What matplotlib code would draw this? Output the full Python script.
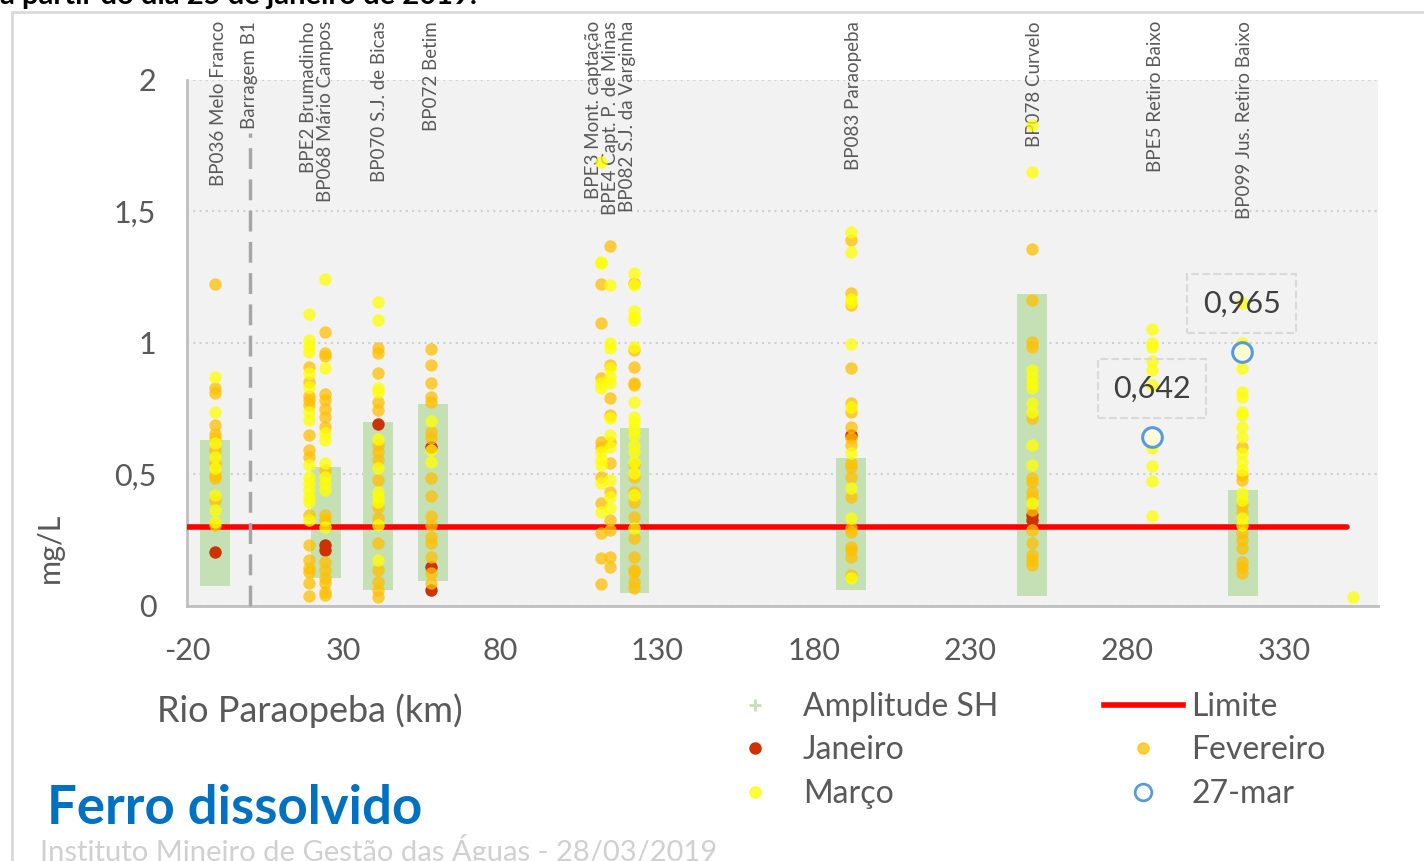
import numpy as np
import matplotlib.pyplot as plt
from matplotlib.lines import Line2D
from matplotlib.ticker import FuncFormatter
import matplotlib.transforms as mtransforms

plt.rcParams['font.family'] = ['Lato', 'DejaVu Sans']
plt.rcParams['axes.unicode_minus'] = False

# estações (km ao longo do rio)
km = [-11, 19, 24, 41, 58, 112, 115, 122.5, 192, 249.5, 288, 316.5, 352]

janeiro = [
    [0.205], [], [0.232, 0.213], [0.692], [0.605, 0.148, 0.061],
    [], [], [], [0.65], [0.346, 0.327], [], [], [],
]
fevereiro = [
    [1.224, 0.83, 0.81, 0.69, 0.655, 0.64, 0.593, 0.544, 0.498, 0.487, 0.403, 0.308],
    [0.91, 0.852, 0.80, 0.783, 0.764, 0.65, 0.593, 0.567, 0.346, 0.232, 0.175, 0.144, 0.13, 0.087, 0.038],
    [1.04, 0.962, 0.95, 0.806, 0.783, 0.749, 0.719, 0.681, 0.517, 0.346, 0.327, 0.167, 0.137, 0.106, 0.087, 0.053, 0.042],
    [0.981, 0.962, 0.886, 0.776, 0.745, 0.612, 0.586, 0.555, 0.479, 0.376, 0.335, 0.24, 0.137, 0.091, 0.061, 0.034],
    [0.977, 0.916, 0.848, 0.795, 0.776, 0.662, 0.639, 0.487, 0.418, 0.342, 0.308, 0.262, 0.24, 0.186, 0.125, 0.087],
    [1.224, 1.076, 0.867, 0.624, 0.605, 0.49, 0.392, 0.278, 0.182, 0.084],
    [1.369, 0.916, 0.791, 0.726, 0.624, 0.544, 0.433, 0.327, 0.289, 0.186, 0.148],
    [1.228, 0.973, 0.909, 0.848, 0.84, 0.536, 0.49, 0.433, 0.395, 0.338, 0.259, 0.186, 0.137, 0.129, 0.091, 0.068],
    [1.392, 1.19, 1.144, 0.905, 0.772, 0.738, 0.681, 0.639, 0.612, 0.544, 0.529, 0.49, 0.414, 0.297, 0.281, 0.224, 0.213, 0.186, 0.118],
    [1.357, 1.163, 1.004, 0.985, 0.715, 0.487, 0.471, 0.433, 0.414, 0.365, 0.289, 0.24, 0.194, 0.175, 0.156],
    [],
    [0.605, 0.498, 0.479, 0.384, 0.357, 0.278, 0.251, 0.221, 0.167, 0.148, 0.125],
    [],
]
marco = [
    [0.872, 0.738, 0.62, 0.567, 0.525, 0.422, 0.365, 0.32],
    [1.11, 1.01, 0.99, 0.966, 0.885, 0.833, 0.738, 0.707, 0.536, 0.49, 0.468, 0.441, 0.414, 0.395, 0.327],
    [1.243, 0.905, 0.658, 0.631, 0.544, 0.49, 0.468, 0.441, 0.30],
    [1.156, 1.087, 0.829, 0.814, 0.635, 0.525, 0.433, 0.414, 0.395, 0.308, 0.175],
    [0.703, 0.593, 0.548],
    [1.688, 1.308, 1.304, 0.848, 0.829, 0.586, 0.555, 0.536, 0.468, 0.357],
    [1.22, 1.0, 0.981, 0.905, 0.871, 0.848, 0.715, 0.65, 0.605, 0.479, 0.414, 0.373],
    [1.266, 1.22, 1.122, 1.099, 1.087, 0.985, 0.776, 0.719, 0.70, 0.673, 0.65, 0.612, 0.586, 0.548, 0.506, 0.422, 0.297],
    [1.422, 1.346, 1.167, 1.156, 0.996, 0.757, 0.582, 0.449, 0.335, 0.106],
    [1.829, 1.65, 0.897, 0.871, 0.848, 0.829, 0.772, 0.738, 0.612, 0.536, 0.392],
    [1.053, 1.0, 0.985, 0.932, 0.897, 0.84, 0.642, 0.60, 0.532, 0.475, 0.342],
    [1.152, 1.0, 0.965, 0.905, 0.814, 0.795, 0.738, 0.726, 0.681, 0.643, 0.582, 0.548, 0.517, 0.43, 0.403, 0.335, 0.308],
    [0.034],
]

# amplitude da série histórica
amp_km = [-11, 24.3, 41, 58.4, 122.8, 191.8, 249.7, 316.9]
amp_min = [0.076, 0.106, 0.061, 0.095, 0.049, 0.061, 0.038, 0.038]
amp_max = [0.63, 0.527, 0.70, 0.768, 0.677, 0.563, 1.186, 0.441]

# 27 de março
mar27_km = [288, 316.5]
mar27_val = [0.642, 0.965]

limite_km = [-20, 350]
limite_val = [0.3, 0.3]

rotulos_km = [-10, 0, 21.5, 41.5, 58, 115, 192.5, 250.5, 289, 317.5]
rotulos = ['BP036 Melo Franco', 'Barragem B1', 'BPE2 Brumadinho\nBP068 Mário Campos',
           'BP070 S.J. de Bicas', 'BP072 Betim',
           'BPE3 Mont. captação\nBPE4 Capt. P. de Minas\nBP082 S.J. da Varginha',
           'BP083 Paraopeba', 'BP078 Curvelo', 'BPE5 Retiro Baixo', 'BP099 Jus. Retiro Baixo']


def achatar(listas):
    xs, ys = [], []
    for x, vals in zip(km, listas):
        xs += [x] * len(vals)
        ys += vals
    return xs, ys


fig = plt.figure(figsize=(14.24, 8.61), dpi=100)
ax = fig.add_axes([0.1313, 0.2962, 0.8364, 0.6109])
ax.set_facecolor('#f2f2f2')

cinza = '#595959'

# borda externa do gráfico
fig.add_artist(plt.Rectangle((12 / 1424, -0.1), 1.2, 1.086, transform=fig.transFigure,
                             fill=False, edgecolor='#d9d9d9', linewidth=2))

ax.bar(amp_km, np.array(amp_max) - np.array(amp_min), bottom=amp_min, width=9.5,
       color='#c5e0b4', zorder=2)
ax.plot(limite_km, limite_val, color='#ff0000', linewidth=4, solid_capstyle='round', zorder=3)

x, y = achatar(janeiro)
ax.scatter(x, y, s=80, color='#cc3300', linewidths=0, zorder=4)
x, y = achatar(fevereiro)
ax.scatter(x, y, s=80, color='#ffc000', alpha=0.75, linewidths=0, zorder=5)
x, y = achatar(marco)
ax.scatter(x, y, s=80, color='#ffff00', alpha=0.75, linewidths=0, zorder=6)
ax.scatter(mar27_km, mar27_val, s=200, facecolor=(1, 1, 1, 0.75), edgecolor='#5b9bd5',
           linewidths=2.2, zorder=7)

for xv, v in zip(mar27_km, mar27_val):
    ax.annotate(('%.3f' % v).replace('.', ','), (xv, v), xytext=(0, 35), textcoords='offset points',
                ha='center', va='center', fontsize=22, color='#404040', zorder=8,
                bbox=dict(boxstyle='square,pad=0.5', fc='none', ec='#d9d9d9', ls='--', lw=1.5))

# barragem
ax.plot([0, 0], [0, 1.8], color='#a6a6a6', linewidth=2.5, dashes=(6, 3), zorder=3, clip_on=False)

trans = mtransforms.blended_transform_factory(ax.transData, ax.transAxes)
for xv, t in zip(rotulos_km, rotulos):
    ax.text(xv, 1.112, t, rotation=90, ha='center', va='top', multialignment='right',
            fontsize=13.5, color=cinza, transform=trans, linespacing=1.0, zorder=1)

ax.set_xlim(-20, 360)
ax.set_ylim(0, 2)
ax.set_xticks(np.arange(-20, 331, 50))
ax.set_yticks([0, 0.5, 1, 1.5, 2])
ax.yaxis.set_major_formatter(FuncFormatter(lambda v, p: ('%g' % v).replace('.', ',')))
ax.tick_params(length=0, labelsize=22, colors=cinza, pad=22)
ax.grid(axis='y', color='#d0d0d0', linestyle=(0, (1, 2)), linewidth=1.5)
ax.set_axisbelow(True)
for s in ['top', 'right']:
    ax.spines[s].set_visible(False)
for s in ['left', 'bottom']:
    ax.spines[s].set_color('#bfbfbf')
    ax.spines[s].set_linewidth(2)

fig.text(50 / 1424, 1 - 548 / 861, 'mg/L', rotation=90, ha='center', va='center', fontsize=22, color=cinza)
fig.text(157 / 1424, 1 - 711 / 861, 'Rio Paraopeba (km)', ha='left', va='center', fontsize=26, color=cinza)
fig.text(47 / 1424, 1 - 808 / 861, 'Ferro dissolvido', ha='left', va='center', fontsize=38,
         fontweight='bold', color='#0070c0')
fig.text(40 / 1424, 1 - 850 / 861, 'Instituto Mineiro de Gestão das Águas - 28/03/2019', ha='left',
         va='center', fontsize=21, color='#d0d0d0')
fig.text(0, 1 - 4 / 861, 'a partir do dia 25 de janeiro de 2019.', ha='left', va='baseline',
         fontsize=21, fontweight='bold', color='#000000')

handles = [
    Line2D([], [], marker='+', linestyle='none', color='#c5e0b4', markersize=9, markeredgewidth=2),
    Line2D([], [], marker='o', linestyle='none', color='#cc3300', markersize=8),
    Line2D([], [], marker='o', linestyle='none', color='#ffff00', alpha=0.75, markersize=8),
    Line2D([], [], color='#ff0000', linewidth=4),
    Line2D([], [], marker='o', linestyle='none', color='#ffc000', alpha=0.75, markersize=8),
    Line2D([], [], marker='o', linestyle='none', markerfacecolor='none', markeredgecolor='#5b9bd5',
           markeredgewidth=2, markersize=12),
]
labels = ['Amplitude SH', 'Janeiro', 'Março', 'Limite', 'Fevereiro', '27-mar']
fig.legend(handles, labels, ncol=2, loc='upper left', bbox_to_anchor=(715 / 1424, 1 - 692 / 861),
           frameon=False, fontsize=23, handlelength=2.5, handletextpad=0.25, columnspacing=3.3,
           labelspacing=0.42, labelcolor=cinza, borderaxespad=0, borderpad=0)

fig.savefig('out.png', dpi=100)
